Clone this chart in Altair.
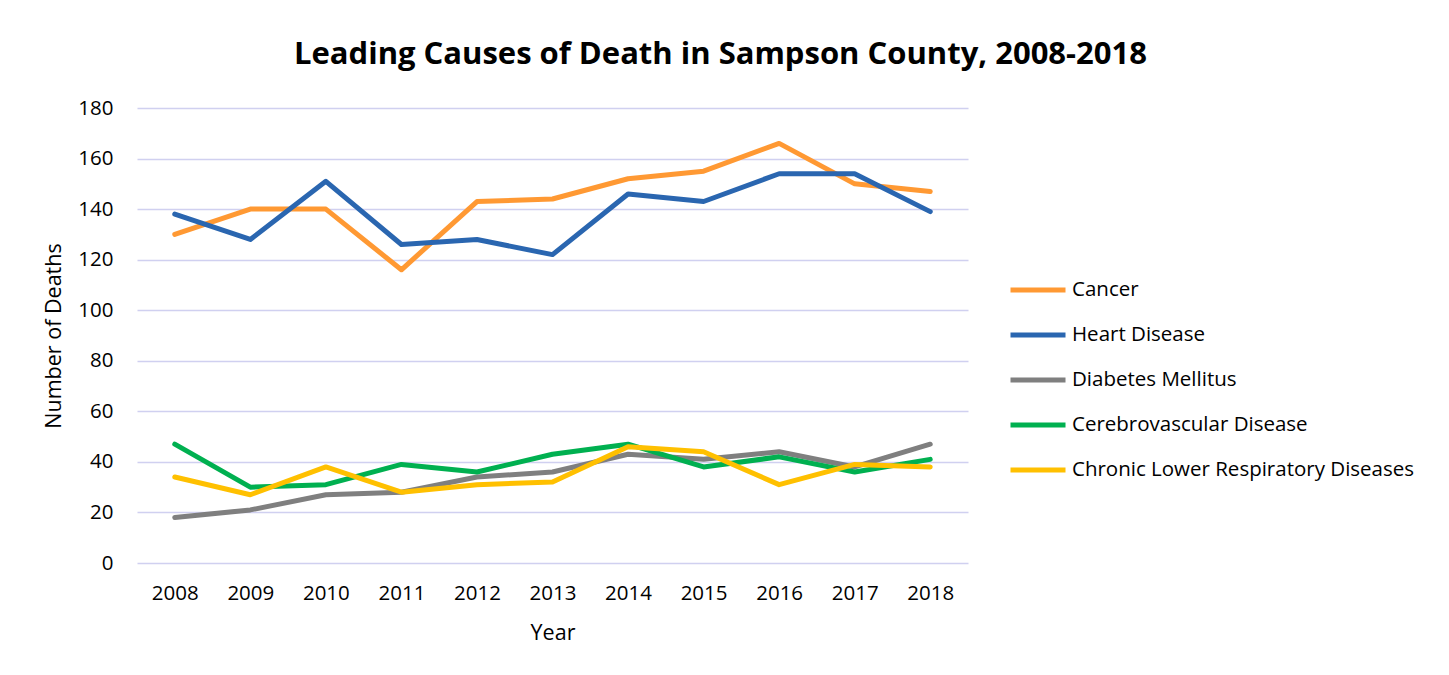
import altair as alt
import pandas as pd

years = [2008, 2009, 2010, 2011, 2012, 2013, 2014, 2015, 2016, 2017, 2018]
causes = ["Cancer", "Heart Disease", "Diabetes Mellitus",
          "Cerebrovascular Disease", "Chronic Lower Respiratory Diseases"]
cancer = [130, 140, 140, 116, 143, 144, 152, 155, 166, 150, 147]
heart = [138, 128, 151, 126, 128, 122, 146, 143, 154, 154, 139]
diabetes = [18, 21, 27, 28, 34, 36, 43, 41, 44, 38, 47]
cerebro = [47, 30, 31, 39, 36, 43, 47, 38, 42, 36, 41]
clrd = [34, 27, 38, 28, 31, 32, 46, 44, 31, 39, 38]
colors = ["#FF9933", "#2A66B0", "#7F7F7F", "#00B050", "#FFC000"]

series = [cancer, heart, diabetes, cerebro, clrd]
rows = []
for c, vals in zip(causes, series):
    for y, v in zip(years, vals):
        rows.append({"Year": str(y), "Cause": c, "Deaths": v})
df = pd.DataFrame(rows)

FONT = "Open Sans"

chart = alt.Chart(df).mark_line(strokeWidth=5, strokeCap="round", strokeJoin="round").encode(
    x=alt.X("Year:O", title="Year",
            scale=alt.Scale(type="point", padding=0.5),
            axis=alt.Axis(labelAngle=0, grid=False, ticks=False, domain=False,
                          labelPadding=20, titlePadding=19)),
    y=alt.Y("Deaths:Q", title="Number of Deaths",
            scale=alt.Scale(domain=[0, 180], nice=False),
            axis=alt.Axis(values=list(range(0, 181, 20)), ticks=False, domain=False,
                          labelPadding=24, titlePadding=12,
                          gridColor="#D0D0F0", gridWidth=1.5)),
    color=alt.Color("Cause:N", sort=causes,
                    scale=alt.Scale(domain=causes, range=colors),
                    legend=alt.Legend(title=None, orient="none", legendX=871, legendY=152,
                                      symbolType="stroke", symbolSize=3025,
                                      symbolStrokeWidth=5, labelOffset=4,
                                      rowPadding=4, labelLimit=500)),
    order=alt.Order("Year:O"),
).properties(
    width=831, height=455,
    title=alt.Title("Leading Causes of Death in Sampson County, 2008-2018",
                    fontSize=31, font=FONT, fontWeight="bold", color="#000000",
                    anchor="middle", dx=168, offset=27),
    autosize=alt.AutoSizeParams(type="none"),
    padding={"left": 129, "top": 100, "right": 465, "bottom": 95},
).configure_view(stroke=None).configure_axis(
    labelFont=FONT, titleFont=FONT, labelFontSize=20.5, titleFontSize=21.5,
    labelColor="#000000", titleColor="#000000", titleFontWeight="normal",
).configure_legend(
    labelFont=FONT, labelFontSize=20.5, labelColor="#000000",
)

chart.save("out.html", embed_options={"renderer": "svg", "actions": False})
